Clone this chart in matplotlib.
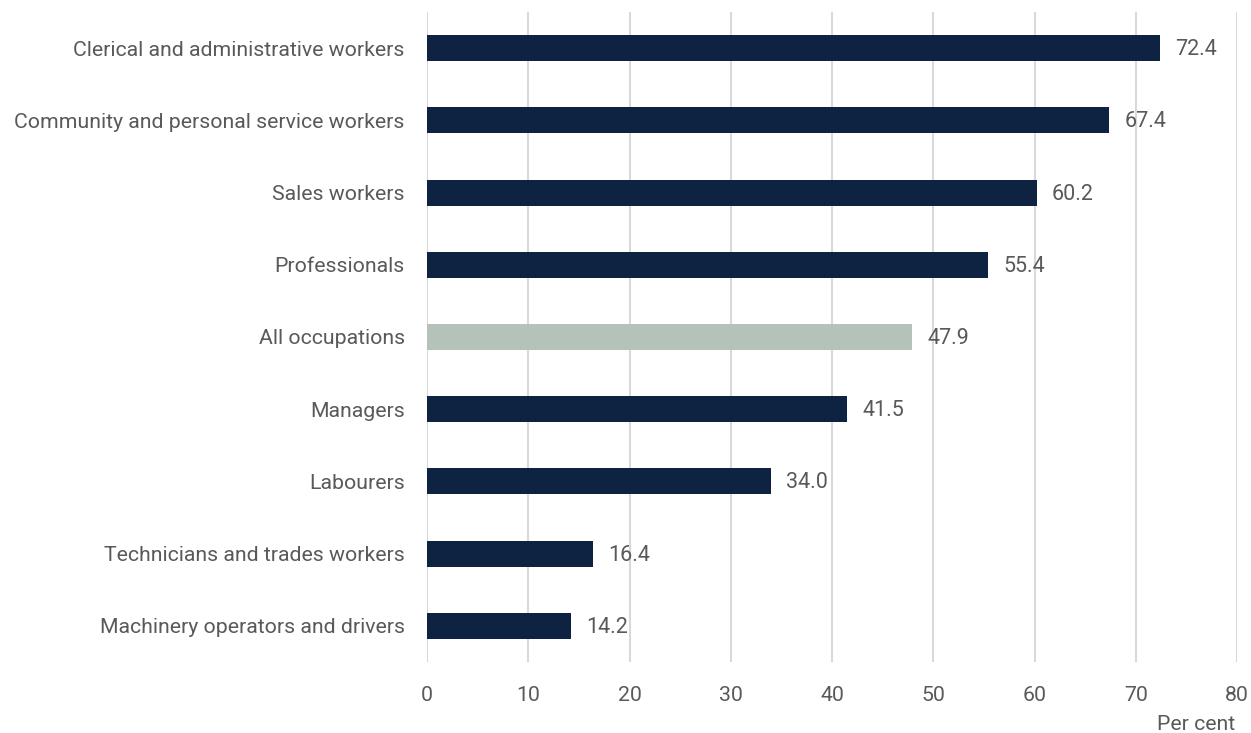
import matplotlib
matplotlib.use("Agg")
import matplotlib.pyplot as plt

categories = [
    "Clerical and administrative workers",
    "Community and personal service workers",
    "Sales workers",
    "Professionals",
    "All occupations",
    "Managers",
    "Labourers",
    "Technicians and trades workers",
    "Machinery operators and drivers",
]
values = [72.4, 67.4, 60.2, 55.4, 47.9, 41.5, 34.0, 16.4, 14.2]
highlight = "All occupations"
xticks = [0, 10, 20, 30, 40, 50, 60, 70, 80]

navy = "#0E2341"
grey = "#B5C2BA"
text_c = "#595959"

plt.rcParams['font.family'] = ['Roboto', 'DejaVu Sans']

W, H = 1251, 733
fig = plt.figure(figsize=(W/100, H/100), dpi=100)
ax = fig.add_axes([427/W, 1-662/H, (1237-427)/W, (662-12)/H])

ypos = list(range(len(categories)))
colors = [grey if c == highlight else navy for c in categories]
ax.barh(ypos, values, height=0.36, color=colors, zorder=3)
ax.set_ylim(len(categories)-0.5, -0.5)
ax.set_xlim(0, 80)
ax.set_xticks(xticks)
ax.set_xticklabels([str(t) for t in xticks])
ax.set_yticks(ypos)
ax.set_yticklabels(categories)
ax.grid(axis='x', color='#D9D9D9', linewidth=1.5, zorder=0)
for s in ax.spines.values():
    s.set_visible(False)
ax.tick_params(axis='both', length=0, labelsize=15.3, labelcolor=text_c)
ax.tick_params(axis='y', pad=16)
ax.tick_params(axis='x', pad=17)

for y, v in zip(ypos, values):
    ax.text(v + 1.5, y + 0.02, f"{v:.1f}", va='center', ha='left', fontsize=15.5, color=text_c)

fig.text(1235/W, 1-724/H, "Per cent", ha='right', va='center', fontsize=15.3, color=text_c)

fig.savefig("out.png", dpi=100)
